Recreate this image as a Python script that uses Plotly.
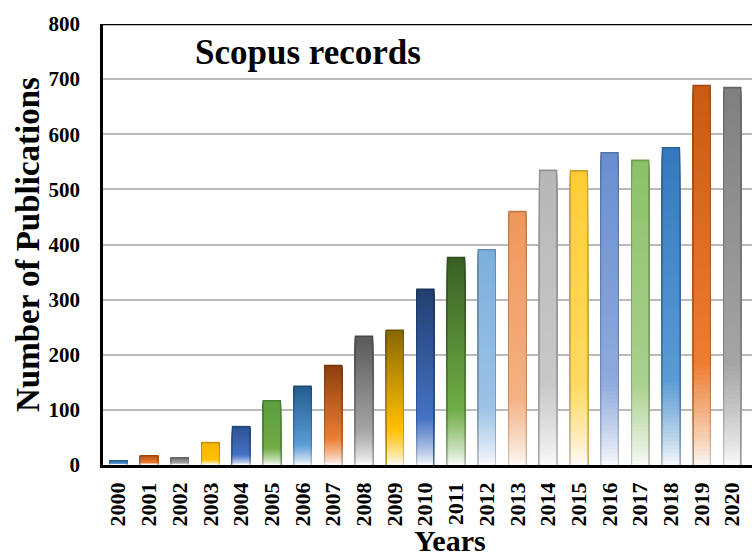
import plotly.graph_objects as go

years = [str(y) for y in range(2000, 2021)]
publications = [9, 18, 14, 42, 71, 118, 144, 182, 235, 246, 320, 378, 392, 461,
                536, 535, 568, 554, 577, 690, 686]
y_ticks = [0, 100, 200, 300, 400, 500, 600, 700, 800]

top_colors = ["#2E75B6", "#C55A11", "#7F7F7F", "#F5B800", "#2F5597", "#5E9E3E",
              "#255E91", "#8E400D", "#5A5A5A", "#8A6800", "#223F70", "#3A5F25",
              "#7CAFDD", "#F1975A", "#B7B7B7", "#FFCD33", "#698ED0", "#8CC168",
              "#3479BD", "#C85A12", "#7F7F7F"]
mid_colors = ["#5B9BD5", "#ED7D31", "#A5A5A5", "#FFC000", "#4472C4", "#70AD47",
              "#5B9BD5", "#ED7D31", "#A5A5A5", "#FFC000", "#4472C4", "#70AD47",
              "#9DC3E6", "#F4B183", "#C9C9C9", "#FFD966", "#8FAADC", "#A9D18E",
              "#5B9BD5", "#ED7D31", "#A5A5A5"]


def hex2rgb(h):
    h = h.lstrip("#")
    return [int(h[i:i + 2], 16) for i in (0, 2, 4)]


def mix(c1, c2, t):
    return [c1[i] + (c2[i] - c1[i]) * t for i in range(3)]


def rgbstr(c):
    return "rgb(%d,%d,%d)" % tuple(round(min(max(v, 0), 255)) for v in c)


def grad_color(top, mid, t):
    white = [252, 252, 252]
    top, mid = hex2rgb(top), hex2rgb(mid)
    s = 0.27
    if t <= s:
        return mix(white, mid, (t / s) ** 0.8)
    return mix(mid, top, (t - s) / (1 - s))


N = 80
fig = go.Figure()
inner_vals = [max(v - 3, 0) for v in publications]
# outer (edge) layers, drawn from the tallest down so every layer covers the one below
for k in range(N - 1, -1, -1):
    t = (k + 0.5) / N
    cols = [rgbstr([c * 0.8 for c in grad_color(tc, mc, t)]) for tc, mc in zip(top_colors, mid_colors)]
    fig.add_trace(go.Bar(
        x=years, y=[v * (k + 1) / N for v in publications],
        width=0.6, marker=dict(color=cols, line=dict(width=0)), hoverinfo="skip", showlegend=False))
# inner fill layers
for k in range(N - 1, -1, -1):
    t = (k + 0.5) / N
    cols = [rgbstr(grad_color(tc, mc, t)) for tc, mc in zip(top_colors, mid_colors)]
    fig.add_trace(go.Bar(
        x=years, y=[v * (k + 1) / N for v in inner_vals],
        width=0.5, marker=dict(color=cols, line=dict(width=0)), hoverinfo="skip", showlegend=False))

font_family = "Liberation Serif, Times New Roman, serif"
fig.update_layout(
    barmode="overlay",
    width=752, height=558,
    margin=dict(l=103, r=0, t=24, b=93),
    paper_bgcolor="white", plot_bgcolor="white",
    font=dict(family=font_family, color="black"),
    xaxis=dict(
        range=[-0.5, 20.64], tickangle=-90, showgrid=False, showline=True,
        linecolor="black", linewidth=2.5, ticks="", automargin=False,
        tickfont=dict(size=22, family=font_family, color="black", weight="bold"),
        ticklabelstandoff=6,
    ),
    yaxis=dict(
        range=[0, 800], tickvals=y_ticks, showgrid=True, gridcolor="#BBBBBB", gridwidth=1.5,
        showline=True, linecolor="black", linewidth=2.5, ticks="", zeroline=False,
        automargin=False,
        tickfont=dict(size=21, family=font_family, color="black", weight="bold"),
        ticklabelstandoff=16,
    ),
    shapes=[dict(type="line", xref="paper", yref="y", x0=0, x1=1, y0=800, y1=800,
                 line=dict(color="black", width=2.5))],
    annotations=[
        dict(text="<b>Scopus records</b>", xref="paper", yref="paper", x=0.139, y=0.936,
             xanchor="left", yanchor="middle", showarrow=False,
             font=dict(size=35, family=font_family, color="black")),
        dict(text="<b>Years</b>", xref="paper", yref="paper", x=0.535, y=-0.172,
             xanchor="center", yanchor="middle", showarrow=False,
             font=dict(size=30, family=font_family, color="black")),
        dict(text="<b>Number of Publications</b>", xref="paper", yref="paper", x=-0.1156, y=0.501,
             xanchor="center", yanchor="middle", showarrow=False, textangle=-90,
             font=dict(size=33, family=font_family, color="black")),
    ],
)
fig.write_html("out.html", config={"displayModeBar": False},
               post_script="document.body.style.margin='0px';")
